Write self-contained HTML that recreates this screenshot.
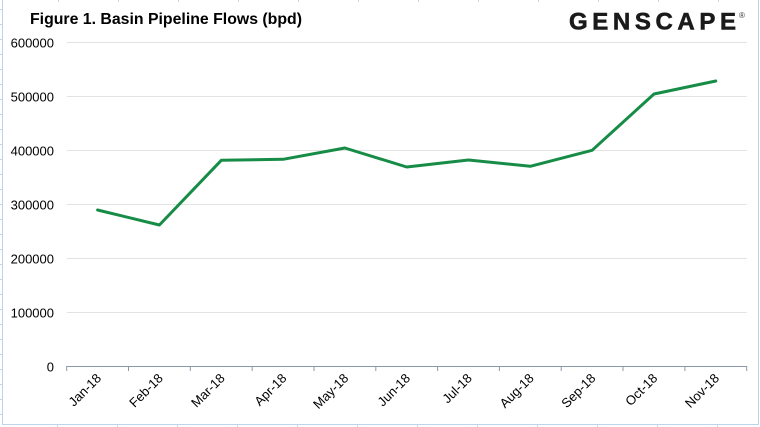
<!DOCTYPE html>
<html><head><meta charset="utf-8"><style>
html,body{margin:0;padding:0;background:#fff;}
svg{display:block;}
text{font-family:"Liberation Sans",Arial,sans-serif;}
</style></head><body>
<svg width="760" height="427" viewBox="0 0 760 427" xmlns="http://www.w3.org/2000/svg">
<rect x="0" y="0" width="760" height="427" fill="#fff"/>
<!-- spreadsheet grid marks outside chart -->
<g stroke="#C9D7EA" stroke-width="1">
<line x1="0" y1="9.5" x2="2" y2="9.5"/><line x1="0" y1="24.5" x2="2" y2="24.5"/><line x1="0" y1="39.5" x2="2" y2="39.5"/><line x1="0" y1="54.5" x2="2" y2="54.5"/>
<line x1="0" y1="69.5" x2="2" y2="69.5"/><line x1="0" y1="84.5" x2="2" y2="84.5"/><line x1="0" y1="99.5" x2="2" y2="99.5"/><line x1="0" y1="114.5" x2="2" y2="114.5"/>
<line x1="0" y1="129.5" x2="2" y2="129.5"/><line x1="0" y1="144.5" x2="2" y2="144.5"/><line x1="0" y1="159.5" x2="2" y2="159.5"/><line x1="0" y1="174.5" x2="2" y2="174.5"/>
<line x1="0" y1="189.5" x2="2" y2="189.5"/><line x1="0" y1="204.5" x2="2" y2="204.5"/><line x1="0" y1="219.5" x2="2" y2="219.5"/><line x1="0" y1="234.5" x2="2" y2="234.5"/>
<line x1="0" y1="249.5" x2="2" y2="249.5"/><line x1="0" y1="264.5" x2="2" y2="264.5"/><line x1="0" y1="279.5" x2="2" y2="279.5"/><line x1="0" y1="294.5" x2="2" y2="294.5"/>
<line x1="0" y1="309.5" x2="2" y2="309.5"/><line x1="0" y1="324.5" x2="2" y2="324.5"/><line x1="0" y1="339.5" x2="2" y2="339.5"/><line x1="0" y1="354.5" x2="2" y2="354.5"/>
<line x1="0" y1="369.5" x2="2" y2="369.5"/><line x1="0" y1="384.5" x2="2" y2="384.5"/><line x1="0" y1="399.5" x2="2" y2="399.5"/><line x1="0" y1="414.5" x2="2" y2="414.5"/>
<line x1="58.5" y1="0" x2="58.5" y2="2"/><line x1="118.5" y1="0" x2="118.5" y2="2"/><line x1="178.5" y1="0" x2="178.5" y2="2"/><line x1="238.5" y1="0" x2="238.5" y2="2"/>
<line x1="298.5" y1="0" x2="298.5" y2="2"/><line x1="358.5" y1="0" x2="358.5" y2="2"/><line x1="418.5" y1="0" x2="418.5" y2="2"/><line x1="478.5" y1="0" x2="478.5" y2="2"/>
<line x1="538.5" y1="0" x2="538.5" y2="2"/><line x1="598.5" y1="0" x2="598.5" y2="2"/><line x1="658.5" y1="0" x2="658.5" y2="2"/><line x1="718.5" y1="0" x2="718.5" y2="2"/>
<line x1="57.5" y1="425" x2="57.5" y2="427"/><line x1="117.5" y1="425" x2="117.5" y2="427"/><line x1="177.5" y1="425" x2="177.5" y2="427"/><line x1="237.5" y1="425" x2="237.5" y2="427"/>
<line x1="297.5" y1="425" x2="297.5" y2="427"/><line x1="357.5" y1="425" x2="357.5" y2="427"/><line x1="417.5" y1="425" x2="417.5" y2="427"/><line x1="477.5" y1="425" x2="477.5" y2="427"/>
<line x1="537.5" y1="425" x2="537.5" y2="427"/><line x1="597.5" y1="425" x2="597.5" y2="427"/><line x1="657.5" y1="425" x2="657.5" y2="427"/><line x1="717.5" y1="425" x2="717.5" y2="427"/>
</g>
<!-- chart border -->
<path d="M2.5 0 V424.5 H758.5 V0" fill="none" stroke="#BCD3EE" stroke-width="1"/>

<!-- title -->
<text x="30" y="24" font-size="16" font-weight="bold" fill="#000" textLength="272" lengthAdjust="spacingAndGlyphs">Figure 1. Basin Pipeline Flows (bpd)</text>

<!-- logo -->
<text x="569" y="29.5" font-size="24" font-weight="bold" fill="#1a1a1a" stroke="#1a1a1a" stroke-width="0.6" textLength="167" lengthAdjust="spacing">GENSCAPE</text>
<text x="739" y="18" font-size="8" fill="#333">®</text>

<!-- gridlines -->
<g stroke="#E3E3E3" stroke-width="1">
<line x1="66.7" y1="42.5" x2="746.7" y2="42.5"/>
<line x1="66.7" y1="96.5" x2="746.7" y2="96.5"/>
<line x1="66.7" y1="150.5" x2="746.7" y2="150.5"/>
<line x1="66.7" y1="204.5" x2="746.7" y2="204.5"/>
<line x1="66.7" y1="258.5" x2="746.7" y2="258.5"/>
<line x1="66.7" y1="312.5" x2="746.7" y2="312.5"/>
</g>
<!-- axis -->
<g stroke="#8A99AA" stroke-width="1">
<line x1="66.7" y1="366.5" x2="746.7" y2="366.5"/>
<line x1="66.7" y1="366" x2="66.7" y2="371"/><line x1="128.5" y1="366" x2="128.5" y2="371"/><line x1="190.3" y1="366" x2="190.3" y2="371"/>
<line x1="252.2" y1="366" x2="252.2" y2="371"/><line x1="314" y1="366" x2="314" y2="371"/><line x1="375.8" y1="366" x2="375.8" y2="371"/>
<line x1="437.6" y1="366" x2="437.6" y2="371"/><line x1="499.4" y1="366" x2="499.4" y2="371"/><line x1="561.2" y1="366" x2="561.2" y2="371"/>
<line x1="623" y1="366" x2="623" y2="371"/><line x1="684.9" y1="366" x2="684.9" y2="371"/><line x1="746.7" y1="366" x2="746.7" y2="371"/>
</g>
<!-- y labels -->
<g font-size="13" fill="#000" text-anchor="end">
<text x="54" y="47.5">600000</text>
<text x="54" y="101.5">500000</text>
<text x="54" y="155.5">400000</text>
<text x="54" y="209.5">300000</text>
<text x="54" y="263.5">200000</text>
<text x="54" y="317.5">100000</text>
<text x="54" y="371.5">0</text>
</g>
<!-- x labels -->
<g font-size="13" fill="#000" text-anchor="end">
<text transform="translate(102,379) rotate(-45)">Jan-18</text>
<text transform="translate(163.8,379) rotate(-45)">Feb-18</text>
<text transform="translate(225.6,379) rotate(-45)">Mar-18</text>
<text transform="translate(287.4,379) rotate(-45)">Apr-18</text>
<text transform="translate(349.2,379) rotate(-45)">May-18</text>
<text transform="translate(411,379) rotate(-45)">Jun-18</text>
<text transform="translate(472.8,379) rotate(-45)">Jul-18</text>
<text transform="translate(534.6,379) rotate(-45)">Aug-18</text>
<text transform="translate(596.4,379) rotate(-45)">Sep-18</text>
<text transform="translate(658.2,379) rotate(-45)">Oct-18</text>
<text transform="translate(720,379) rotate(-45)">Nov-18</text>
</g>
<!-- series -->
<polyline fill="none" stroke="#178C47" stroke-width="3" stroke-linejoin="round" stroke-linecap="round"
points="97.6,210 159.4,225 221.3,160.3 283.1,159.3 344.9,148 406.7,167 468.5,160 530.3,166.3 592.1,150.3 654,94 715.8,81"/>
</svg>
</body></html>
